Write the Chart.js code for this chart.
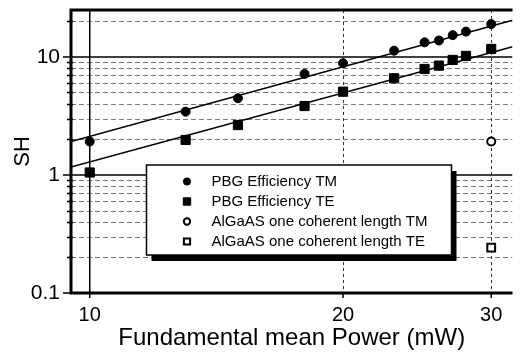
<!DOCTYPE html>
<html lang="en">
<head>
<meta charset="utf-8">
<title>SH vs fundamental mean power</title>
<script src="https://cdn.jsdelivr.net/npm/chart.js"></script>
<style>
  html, body { margin: 0; padding: 0; background: #fff; }
</style>
</head>
<body>
<canvas id="shChart" width="520" height="362"></canvas>
<script>
// values
var power = [10, 13, 15, 18, 20, 23, 25, 26, 27, 28, 30];
var shTM = [1.92, 3.44, 4.47, 7.18, 8.85, 11.3, 13.3, 13.8, 15.3, 16.4, 19.0];
var shTE = [1.05, 1.98, 2.65, 3.84, 5.08, 6.6, 7.91, 8.45, 9.44, 10.2, 11.7];
var algaasPower = [30];
var algaasTM = [1.92];
var algaasTE = [0.242];
// straight fit lines (end points read at the frame edges)
var fitPower = [9.5, 31.8];
var fitTM = [1.92, 20.5];
var fitTE = [1.17, 12.2];
// ticks and grid
var xTicks = [10, 20, 30];
var yTicks = [0.1, 1, 10];
var xSolidGrid = [10];
var xDashedGrid = [20, 30];
var ySolidGrid = [1, 10];
var yMinorGrid = [0.2, 0.3, 0.4, 0.5, 0.6, 0.7, 0.8, 0.9, 2, 3, 4, 5, 6, 7, 8, 9, 20];

var FONT = '"Liberation Sans", Arial, Helvetica, sans-serif';

function pts(xs, ys) {
  return xs.map(function (x, i) { return { x: x, y: ys[i] }; });
}

var figurePlugin = {
  id: 'figure',
  beforeDatasetsDraw: function (chart) {
    var ctx = chart.ctx, a = chart.chartArea;
    var xs = chart.scales.x, ys = chart.scales.y;
    ctx.save();
    ctx.beginPath();
    ctx.rect(a.left, a.top, a.right - a.left, a.bottom - a.top);
    ctx.clip();
    // minor horizontal grid
    ctx.strokeStyle = '#777';
    ctx.lineWidth = 1;
    ctx.setLineDash([5, 3]);
    yMinorGrid.forEach(function (v) {
      var y = Math.round(ys.getPixelForValue(v)) + 0.5;
      ctx.beginPath(); ctx.moveTo(a.left, y); ctx.lineTo(a.right, y); ctx.stroke();
    });
    // dashed verticals
    ctx.strokeStyle = '#333';
    ctx.setLineDash([3, 3]);
    xDashedGrid.forEach(function (v) {
      var x = Math.round(xs.getPixelForValue(v)) + 0.5;
      ctx.beginPath(); ctx.moveTo(x, a.top); ctx.lineTo(x, a.bottom); ctx.stroke();
    });
    // solid majors
    ctx.setLineDash([]);
    ctx.strokeStyle = '#000';
    ctx.lineWidth = 1.5;
    ySolidGrid.forEach(function (v) {
      var y = ys.getPixelForValue(v);
      ctx.beginPath(); ctx.moveTo(a.left, y); ctx.lineTo(a.right, y); ctx.stroke();
    });
    xSolidGrid.forEach(function (v) {
      var x = xs.getPixelForValue(v);
      ctx.beginPath(); ctx.moveTo(x, a.top); ctx.lineTo(x, a.bottom); ctx.stroke();
    });
    ctx.restore();
  },
  afterDatasetsDraw: function (chart) {
    // boxed legend with drop shadow
    var ctx = chart.ctx;
    var bx = 146.5, by = 165, bw = 305, bh = 90;
    ctx.save();
    ctx.fillStyle = '#000';
    ctx.fillRect(bx + 5, by + 6, bw, bh);
    ctx.fillStyle = '#fff';
    ctx.fillRect(bx, by, bw, bh);
    ctx.strokeStyle = '#000';
    ctx.lineWidth = 1.5;
    ctx.strokeRect(bx, by, bw, bh);
    var items = chart.data.datasets.filter(function (d) { return d.label; });
    ctx.font = '15px ' + FONT;
    ctx.textBaseline = 'middle';
    ctx.textAlign = 'left';
    items.forEach(function (d, i) {
      var y = by + 16.5 + i * 20;
      ctx.fillStyle = d.pointBackgroundColor;
      ctx.strokeStyle = d.pointBorderColor;
      ctx.lineWidth = d.pointBorderWidth;
      Chart.helpers.drawPoint(ctx, {
        pointStyle: d.pointStyle, radius: d.pointRadius * 0.8,
        rotation: 0, borderWidth: d.pointBorderWidth
      }, bx + 40.5, y);
      ctx.fillStyle = '#000';
      ctx.fillText(d.label, bx + 65, y);
    });
    ctx.restore();
  },
  afterDraw: function (chart) {
    var ctx = chart.ctx, a = chart.chartArea;
    var xs = chart.scales.x, ys = chart.scales.y;
    ctx.save();
    ctx.strokeStyle = '#000';
    // ticks
    ctx.lineWidth = 1.5;
    yTicks.forEach(function (v) {
      var y = ys.getPixelForValue(v);
      ctx.beginPath(); ctx.moveTo(a.left - 8, y); ctx.lineTo(a.left, y); ctx.stroke();
    });
    yMinorGrid.forEach(function (v) {
      var y = Math.round(ys.getPixelForValue(v)) + 0.5;
      ctx.beginPath(); ctx.moveTo(a.left - 4, y); ctx.lineTo(a.left + 2, y); ctx.stroke();
    });
    xTicks.forEach(function (v) {
      var x = xs.getPixelForValue(v);
      ctx.beginPath(); ctx.moveTo(x, a.bottom); ctx.lineTo(x, a.bottom + 5); ctx.stroke();
    });
    // frame
    ctx.lineWidth = 3;
    ctx.beginPath();
    ctx.moveTo(a.right, a.top);
    ctx.lineTo(a.left, a.top);
    ctx.lineTo(a.left, a.bottom);
    ctx.lineTo(a.right, a.bottom);
    ctx.stroke();
    ctx.restore();
  }
};

var lineStyle = {
  type: 'line', label: '', borderColor: '#000', borderWidth: 1.5,
  pointRadius: 0, fill: false, tension: 0
};

new Chart(document.getElementById('shChart'), {
  type: 'scatter',
  data: {
    datasets: [
      Object.assign({}, lineStyle, { data: pts(fitPower, fitTM) }),
      Object.assign({}, lineStyle, { data: pts(fitPower, fitTE) }),
      {
        label: 'PBG Efficiency TM', data: pts(power, shTM),
        pointStyle: 'circle', pointRadius: 4.5, pointBorderWidth: 1,
        pointBackgroundColor: '#000', pointBorderColor: '#000'
      },
      {
        label: 'PBG Efficiency TE', data: pts(power, shTE),
        pointStyle: 'rect', pointRadius: 6.5, pointBorderWidth: 1,
        pointBackgroundColor: '#000', pointBorderColor: '#000'
      },
      {
        label: 'AlGaAS one coherent length TM', data: pts(algaasPower, algaasTM),
        pointStyle: 'circle', pointRadius: 4, pointBorderWidth: 2,
        pointBackgroundColor: '#fff', pointBorderColor: '#000'
      },
      {
        label: 'AlGaAS one coherent length TE', data: pts(algaasPower, algaasTE),
        pointStyle: 'rect', pointRadius: 5.5, pointBorderWidth: 2,
        pointBackgroundColor: '#fff', pointBorderColor: '#000'
      }
    ]
  },
  options: {
    responsive: false,
    animation: false,
    devicePixelRatio: 1,
    layout: { padding: { top: 10, right: 0, left: 0, bottom: 0 } },
    plugins: { legend: { display: false }, tooltip: { enabled: false } },
    scales: {
      x: {
        type: 'logarithmic', position: 'bottom', min: 9.5, max: 31.8,
        afterBuildTicks: function (s) { s.ticks = xTicks.map(function (v) { return { value: v }; }); },
        afterFit: function (s) { s.height = 69; s.paddingLeft = 0; s.paddingRight = 0; },
        grid: { display: false },
        border: { display: false },
        ticks: {
          color: '#000', font: { family: FONT, size: 20 }, padding: 2,
          maxRotation: 0, autoSkip: false,
          callback: function (v) { return String(v); }
        },
        title: {
          display: true, text: 'Fundamental mean Power (mW)', color: '#000',
          font: { family: FONT, size: 24 }, padding: { top: 0, bottom: 9 }
        }
      },
      y: {
        type: 'logarithmic', min: 0.1, max: 25,
        afterBuildTicks: function (s) { s.ticks = yTicks.map(function (v) { return { value: v }; }); },
        afterFit: function (s) { s.width = 71; s.paddingTop = 0; s.paddingBottom = 0; },
        grid: { display: false },
        border: { display: false },
        ticks: {
          color: '#000', font: { family: FONT, size: 21 }, padding: 3,
          autoSkip: false,
          callback: function (v) { return v < 1 ? v.toFixed(1) : String(v); }
        },
        title: {
          display: true, text: 'SH', color: '#000',
          font: { family: FONT, size: 22 }, padding: { top: 10, bottom: 0 }
        }
      }
    }
  },
  plugins: [figurePlugin]
});
</script>
</body>
</html>
